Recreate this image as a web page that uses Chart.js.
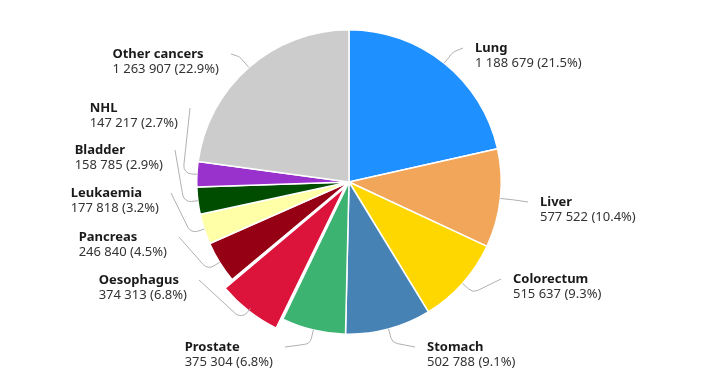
<!DOCTYPE html>
<html>
<head>
<meta charset="utf-8">
<script src="https://cdn.jsdelivr.net/npm/chart.js@4/dist/chart.umd.min.js"></script>
<style>
html,body{margin:0;padding:0;background:#fff;}
#wrap{width:720px;height:390px;}
</style>
</head>
<body>
<div id="wrap"><canvas id="c" width="720" height="390"></canvas></div>
<script>
// ---- data ----
const categories = ['Lung','Liver','Colorectum','Stomach','Prostate','Oesophagus','Pancreas','Leukaemia','Bladder','NHL','Other cancers'];
const cases = [1188679, 577522, 515637, 502788, 375304, 374313, 246840, 177818, 158785, 147217, 1263907];

// ---- styles / layout ----
const colors = ['#1E90FF','#F2A65A','#FFD700','#4682B4','#3CB371','#DC143C','#960014','#FFFFA8','#004D00','#9932CC','#CCCCCC'];
const explodedName = 'Oesophagus';
// label anchor offsets from pie centre: [dx of near text edge, dy of first line]
const labelOffsets = [[126,-134],[191,20],[164,97],[78,165],[-76,165],[-162,98],[-182,55],[-190,11],[-186,-32],[-171,-74],[-130,-128]];

const total = cases.reduce((a,b)=>a+b,0);
const fmt = v => String(v).replace(/\B(?=(\d{3})+(?!\d))/g,' ');
const OFFSET = 28;

const labelPlugin = {
  id:'pieLabels',
  afterDatasetsDraw(chart){
    const ctx = chart.ctx;
    const meta = chart.getDatasetMeta(0);
    ctx.save();
    meta.data.forEach((arc,i)=>{
      const p = arc.getProps(['x','y','startAngle','endAngle','outerRadius'], true);
      const mid = (p.startAngle+p.endAngle)/2;
      const off = (categories[i]===explodedName) ? OFFSET/4 + 1 : 0;
      const r0 = p.outerRadius + off;
      const c = Math.cos(mid), s = Math.sin(mid);
      const x0 = p.x + c*r0, y0 = p.y + s*r0;
      const x1 = p.x + c*(r0+14), y1 = p.y + s*(r0+14);
      const [dx,dy] = labelOffsets[i];
      const right = dx > 0;
      const ax = p.x + dx, ay = p.y + dy;
      const x2 = right ? ax-12 : ax+12;
      ctx.beginPath();
      ctx.strokeStyle = '#b0b0b0';
      ctx.lineWidth = 1;
      ctx.moveTo(x0,y0);
      ctx.arcTo(x1,y1,x2,ay,8);
      ctx.lineTo(x2,ay);
      ctx.stroke();

      const title = categories[i];
      const val = fmt(cases[i]) + ' (' + (cases[i]/total*100).toFixed(1) + '%)';
      ctx.textBaseline = 'middle';
      ctx.textAlign = 'left';
      ctx.font = 'bold 13px "Noto Sans"';
      const w1 = ctx.measureText(title).width;
      ctx.font = '13px "Noto Sans"';
      const w2 = ctx.measureText(val).width;
      const bw = Math.max(w1,w2);
      const tx = right ? ax : ax - bw;
      ctx.fillStyle = '#1a1a1a';
      ctx.font = 'bold 13px "Noto Sans"';
      ctx.fillText(title, tx, ay);
      ctx.font = '13px "Noto Sans"';
      ctx.fillStyle = '#333';
      ctx.fillText(val, tx, ay+15);
    });
    ctx.restore();
  }
};

new Chart(document.getElementById('c'), {
  type:'pie',
  data:{
    labels: categories,
    datasets:[{
      data: cases,
      backgroundColor: colors,
      borderColor:'#ffffff',
      borderWidth:1.5,
      offset: categories.map(n => n===explodedName ? OFFSET : 0)
    }]
  },
  options:{
    responsive:false,
    animation:false,
    events:[],
    layout:{padding:{top:15, bottom:41, left:100, right:122}},
    plugins:{legend:{display:false}, tooltip:{enabled:false}}
  },
  plugins:[labelPlugin]
});
</script>
</body>
</html>
